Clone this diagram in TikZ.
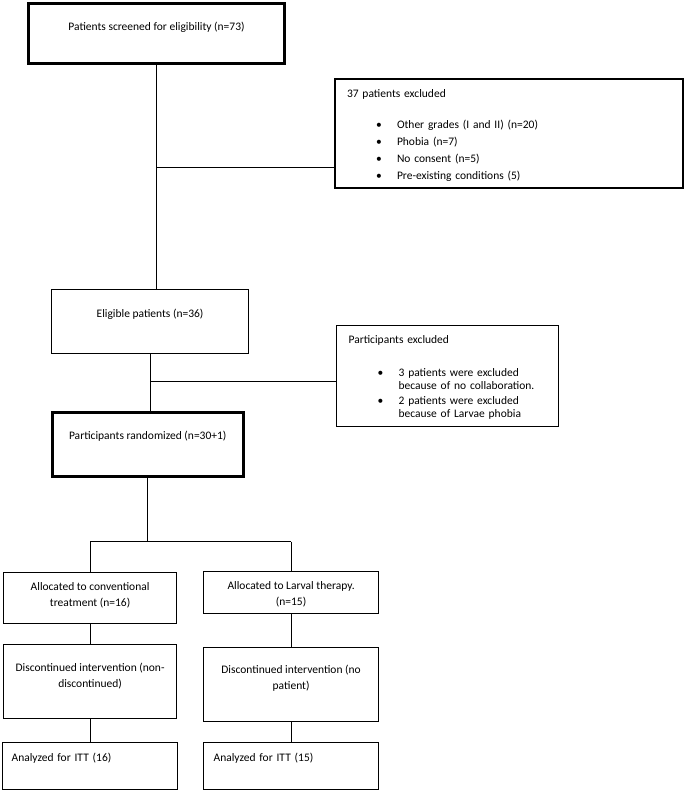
\documentclass[tikz,border=0pt]{standalone}
\usepackage{fontspec}
\setmainfont{Carlito}
\newcommand{\bitem}[1]{\hspace*{29pt}\makebox[21pt][l]{\textbullet}#1}
\newcommand{\bcont}[1]{\hspace*{50pt}#1}

\begin{document}
\begin{tikzpicture}[x=1pt, y=-1pt,
    flowbox/.style={rectangle, draw=black, line width=1.2pt, inner sep=0pt, anchor=north west, align=center, font=\fontsize{11.5}{16}\selectfont},
    heavybox/.style={flowbox, line width=2.5pt},
    listbox/.style={flowbox, align=left, inner xsep=12pt, font=\fontsize{11.5}{13.5}\selectfont},
    link/.style={draw=black, line width=1pt}
  ]
  \useasboundingbox (0,0) rectangle (685,790);

  % screening and exclusions
  \node (screen) [heavybox, line width=3pt, minimum width=256pt, text height=27.2pt, text depth=33.3pt] at (27,1.5) {Patients screened for eligibility (n=73)};
  \node (excl1) [listbox, line width=2pt, text width=324pt, text height=19.2pt, text depth=90.3pt, font=\fontsize{11.5}{17}\selectfont] at (334,77.5)
    {37 patients excluded\\[14pt]
     \bitem{Other grades (I and II) (n=20)}\\
     \bitem{Phobia (n=7)}\\
     \bitem{No consent (n=5)}\\
     \bitem{Pre-existing conditions (5)}};
  \node (elig) [flowbox, minimum width=197pt, text height=27.7pt, text depth=36.3pt] at (51,289) {Eligible patients (n=36)};
  \node (excl2) [listbox, text width=198pt, text height=18.2pt, text depth=82.8pt] at (336,324.5)
    {Participants excluded\\[19.5pt]
     \bitem{3 patients were excluded}\\
     \bcont{because of no collaboration.}\\[1pt]
     \bitem{2 patients were excluded}\\
     \bcont{because of Larvae phobia}};
  \node (rand) [heavybox, minimum width=191pt, text height=27pt, text depth=37pt] at (51,411) {Participants randomized (n=30+1)};

  % two arms
  \node (alloc1) [flowbox, minimum width=173pt, text height=33.7pt, text depth=17.3pt] at (3,572) {Allocated to conventional\\treatment (n=16)};
  \node (alloc2) [flowbox, minimum width=175pt, text height=33.7pt, text depth=8.3pt] at (203,571) {Allocated to Larval therapy.\\(n=15)};
  \node (disc1) [flowbox, minimum width=173pt, text height=42.7pt, text depth=31.3pt] at (3,644) {Discontinued intervention (non-\\discontinued)};
  \node (disc2) [flowbox, minimum width=175pt, text height=41.7pt, text depth=32.3pt] at (203,647) {Discontinued intervention (no\\patient)};
  \node (itt1) [listbox, font=\fontsize{11.5}{16}\selectfont, inner xsep=9pt, text width=157pt, text height=18.7pt, text depth=28.5pt] at (2,742) {Analyzed for ITT (16)};
  \node (itt2) [listbox, font=\fontsize{11.5}{16}\selectfont, inner xsep=10pt, text width=155pt, text height=18.7pt, text depth=28.5pt] at (203,742) {Analyzed for ITT (15)};

  \path (screen.south) ++(0,102) coordinate (cut1);
  \path (elig.south) ++(0,27) coordinate (cut2);
  \path (rand.south) ++(0,64) coordinate (split);

  \draw [link] (screen.south) -- (screen.south |- elig.north);
  \draw [link] (cut1) -- (cut1 -| excl1.west);
  \draw [link] (elig.south) -- (elig.south |- rand.north);
  \draw [link] (cut2) -- (cut2 -| excl2.west);
  \draw [link] (rand.south) -- (split);
  \draw [link] (split -| alloc1.north) -- (split -| alloc2.north);
  \draw [link] (split -| alloc1.north) -- (alloc1.north);
  \draw [link] (split -| alloc2.north) -- (alloc2.north);
  \draw [link] (alloc1.south) -- (disc1.north);
  \draw [link] (alloc2.south) -- (disc2.north);
  \draw [link] (disc1.south) -- (itt1.north);
  \draw [link] (disc2.south) -- (itt2.north);
\end{tikzpicture}
\end{document}
